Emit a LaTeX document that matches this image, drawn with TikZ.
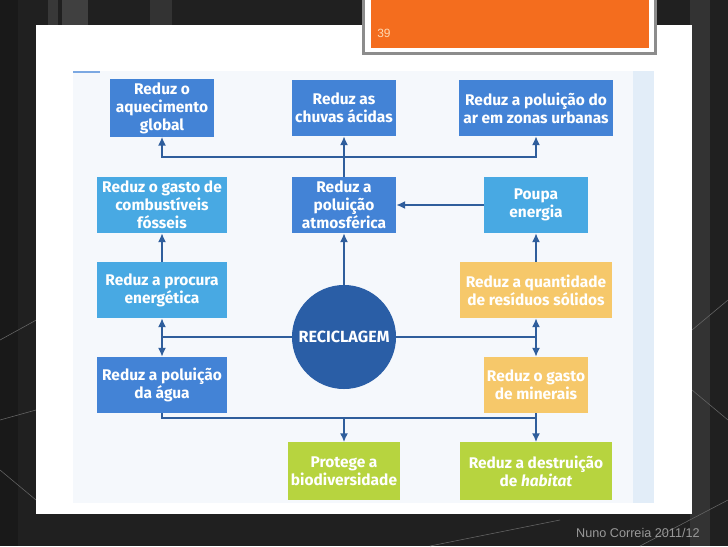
\documentclass[tikz,border=0pt]{standalone}
\usepackage{fontspec}
\setmainfont{Fira Sans}
\newfontfamily\slidefont{Liberation Sans}
\usetikzlibrary{arrows.meta,positioning}

\definecolor{slidebg}{HTML}{202020}
\definecolor{tabor}{HTML}{F46D1E}
\definecolor{scanbg}{HTML}{F5F8FC}
\definecolor{scanedge}{HTML}{E2EDF8}
\definecolor{deepblue}{HTML}{4383D6}
\definecolor{skyblue}{HTML}{48A9E3}
\definecolor{mustard}{HTML}{F6C86A}
\definecolor{lime}{HTML}{B7D43F}
\definecolor{navy}{HTML}{2A5EA6}
\definecolor{linkblue}{HTML}{2F5E9C}

\tikzset{
  effect/.style={draw=none,minimum height=1.4cm,align=center,text=white,inner sep=2pt,
    font=\bfseries\fontsize{11}{12.9}\selectfont},
  link/.style={draw=linkblue,line width=1.1pt},
  tip/.style={link,-{Latex[length=2.2mm,width=2mm]}},
  twotip/.style={link,{Latex[length=2.2mm,width=2mm]}-{Latex[length=2.2mm,width=2mm]}}
}

\begin{document}
\begin{tikzpicture}[x=0.025cm,y=-0.025cm]
\useasboundingbox (0,0) rectangle (728,546);
% slide background
\fill[slidebg] (0,0) rectangle (728,546);
\fill[black!90] (0,0) rectangle (18,546);
\fill[black!78] (48,0) rectangle (58,25);
\fill[black!75] (62,0) rectangle (88,25);
\fill[black!80] (150,0) rectangle (172,25);
\fill[black!80] (690,0) rectangle (710,546);
\draw[black!60,line width=0.4pt] (0,340)--(40,318) (0,420)--(36,410) (0,470)--(36,500) (692,330)--(728,300) (692,390)--(728,420) (430,546)--(560,520) (640,546)--(728,500);
% white slide area
\fill[white] (36,25) rectangle (692,514);
% page tab
\fill[black!45] (362,0) rectangle (657,55);
\fill[white] (365,0) rectangle (654,52);
\fill[tabor] (371,0) rectangle (649,48);
\node[font=\slidefont\fontsize{8.5}{10}\selectfont,text=orange!30,anchor=west,inner sep=0pt] (page) at (377,33) {39};
% scanned figure
\fill[scanbg] (73,71) rectangle (633,503);
\fill[scanedge] (633,71) rectangle (654,503);
\draw[deepblue!70,line width=1pt] (73,72)--(100,72);

\node[effect,fill=deepblue,minimum width=2.6cm] (aquec) at (162,108) {Reduz o\\aquecimento\\global};
\node[effect,fill=deepblue,minimum width=2.6cm] (chuvas) at (344,108) {Reduz as\\chuvas ácidas};
\node[effect,fill=deepblue,minimum width=3.85cm] (urbanas) at (536,108) {Reduz a poluição do\\ar em zonas urbanas};
\node[effect,fill=skyblue,minimum width=3.25cm] (fosseis) at (162,205) {Reduz o gasto de\\combustíveis\\fósseis};
\node[effect,fill=deepblue,minimum width=2.6cm] (atmosf) at (344,205) {Reduz a\\poluição\\atmosférica};
\node[effect,fill=skyblue,minimum width=2.6cm] (energia) at (536,205) {Poupa\\energia};
\node[effect,fill=skyblue,minimum width=3.25cm] (procura) at (162,290) {Reduz a procura\\energética};
\node[effect,fill=mustard,minimum width=3.8cm] (residuos) at (536,290) {Reduz a quantidade\\de resíduos sólidos};
\node[circle,fill=navy,minimum size=2.6cm,text=white,font=\bfseries\fontsize{11.5}{13}\selectfont,inner sep=0pt] (recicl) at (344,337) {RECICLAGEM};
\node[effect,fill=deepblue,minimum width=3.25cm] (agua) at (162,385) {Reduz a poluição\\da água};
\node[effect,fill=mustard,minimum width=2.6cm] (minerais) at (536,385) {Reduz o gasto\\de minerais};
\node[effect,fill=lime,minimum width=2.8cm,minimum height=1.43cm] (biodiv) at (344,471) {Protege a\\biodiversidade};
\node[effect,fill=lime,minimum width=3.8cm,minimum height=1.43cm] (habitat) at (536,471) {Reduz a destruição\\de \textit{habitat}};

% connectors
\coordinate (topjoin) at (344,157);
\coordinate (lowjoin) at (344,418);
\draw[tip] (recicl.north)--(atmosf.south);
\draw[tip] (atmosf.north)--(chuvas.south);
\draw[tip] (topjoin)-|(aquec.south);
\draw[tip] (topjoin)-|(urbanas.south);
\draw[tip] (energia.west)--(atmosf.east);
\draw[tip] (procura.north)--(fosseis.south);
\draw[tip] (residuos.north)--(energia.south);
\draw[link] (recicl.west)--(procura.south |- recicl.west);
\draw[link] (recicl.east)--(residuos.south |- recicl.east);
\draw[twotip] (procura.south)--(agua.north);
\draw[twotip] (residuos.south)--(minerais.north);
\draw[link] (agua.south)|-(lowjoin)--(minerais.south |- lowjoin);
\draw[tip] (lowjoin)--(biodiv.north);
\draw[tip] (minerais.south)--(habitat.north);

\node[font=\slidefont\fontsize{9}{11}\selectfont,text=black!40,anchor=east,inner sep=0pt] (footer) at (700,533) {Nuno Correia 2011/12};
\end{tikzpicture}
\end{document}
